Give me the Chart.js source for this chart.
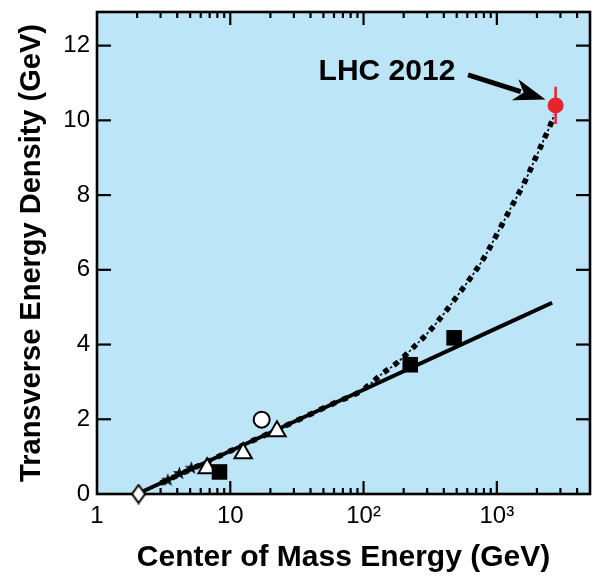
<!DOCTYPE html>
<html>
<head>
<meta charset="utf-8">
<script src="https://cdn.jsdelivr.net/npm/chart.js@4.4.1/dist/chart.umd.min.js"></script>
<style>
    html, body { margin: 0; padding: 0; background: #ffffff; }
    canvas { display: block; }
</style>
</head>
<body>
<canvas id="energyChart" width="602" height="577"></canvas>
<script>
// data: energy in GeV, transverse energy density in GeV
var diamondE = [2.05];
var diamondV = [0];
var starE = [3.4, 4.15, 5.1];
var starV = [0.37, 0.55, 0.69];
var triangleE = [6.7, 12.5, 22.4];
var triangleV = [0.69, 1.09, 1.68];
var circleE = [17.2];
var circleV = [1.99];
var squareE = [8.3, 224, 478];
var squareV = [0.59, 3.46, 4.18];
var lhcE = [2760];
var lhcV = [10.4];
var lhcErr = [0.5];

// solid fit line
var lineE = [2, 10, 100, 1000, 2600];
var lineV = [0, 1.15, 2.79, 4.44, 5.12];

// dash-dot curve
var curveE = [3, 10, 30, 60, 97, 136, 182, 244, 316, 416, 512, 640, 813, 1071, 1270, 1617, 1922, 2205, 2530, 2700];
var curveV = [0.29, 1.15, 1.93, 2.43, 2.77, 3.2, 3.54, 3.97, 4.38, 4.9, 5.33, 5.8, 6.36, 7.15, 7.65, 8.35, 8.94, 9.41, 9.89, 10.15];

// axes
var xMajorTicks = [1, 10, 100, 1000];
var xTickLabels = ['1', '10', '10\u00B2', '10\u00B3'];
var xMinorTicks = [2, 3, 4, 5, 6, 7, 8, 9, 20, 30, 40, 50, 60, 70, 80, 90,
                   200, 300, 400, 500, 600, 700, 800, 900, 2000, 3000, 4000];
var yTicks = [0, 2, 4, 6, 8, 10, 12];

// annotation text and arrow (data coordinates)
var lhcLabel = 'LHC 2012';
var lhcLabelAt = [46, 11.09];
var arrowFrom = [608, 11.22];
var arrowTo = [2321, 10.56];

var FONT = "'Liberation Sans', Arial, Helvetica, sans-serif";

function toPoints(xs, ys) {
    return xs.map(function(x, i) { return { x: x, y: ys[i] }; });
}

function makeStar() {
    var c = document.createElement('canvas');
    c.width = 15; c.height = 15;
    var g = c.getContext('2d');
    g.beginPath();
    for (var i = 0; i < 10; i++) {
        var r = i % 2 === 0 ? 7 : 2.8;
        var ang = -Math.PI / 2 + i * Math.PI / 5;
        g.lineTo(7.5 + r * Math.cos(ang), 7.5 + r * Math.sin(ang));
    }
    g.closePath();
    g.fillStyle = '#000';
    g.fill();
    return c;
}

function makeDiamond() {
    var c = document.createElement('canvas');
    c.width = 16; c.height = 21;
    var g = c.getContext('2d');
    g.beginPath();
    g.moveTo(8, 1.5);
    g.lineTo(14.5, 10.5);
    g.lineTo(8, 19.5);
    g.lineTo(1.5, 10.5);
    g.closePath();
    g.fillStyle = '#fff';
    g.fill();
    g.lineWidth = 2;
    g.strokeStyle = '#000';
    g.stroke();
    return c;
}

function line(ctx, x1, y1, x2, y2) {
    ctx.beginPath();
    ctx.moveTo(x1, y1);
    ctx.lineTo(x2, y2);
    ctx.stroke();
}

var framePlugin = {
    id: 'frame',
    beforeDatasetsDraw: function(chart) {
        var ctx = chart.ctx, a = chart.chartArea;
        var xs = chart.scales.x, ys = chart.scales.y;
        ctx.save();
        ctx.fillStyle = '#bde5f8';
        ctx.fillRect(a.left, a.top, a.right - a.left, a.bottom - a.top);

        ctx.strokeStyle = '#000';
        ctx.lineWidth = 2.2;
        xMajorTicks.forEach(function(v) {
            var px = xs.getPixelForValue(v);
            if (px <= a.left + 1) return;
            line(ctx, px, a.bottom, px, a.bottom - 13);
            line(ctx, px, a.top, px, a.top + 13);
        });
        xMinorTicks.forEach(function(v) {
            var px = xs.getPixelForValue(v);
            line(ctx, px, a.bottom, px, a.bottom - 6);
            line(ctx, px, a.top, px, a.top + 6);
        });
        yTicks.forEach(function(v) {
            if (v === 0) return;
            var py = ys.getPixelForValue(v);
            line(ctx, a.left, py, a.left + 14, py);
            line(ctx, a.right, py, a.right - 14, py);
        });

        ctx.lineWidth = 2.6;
        ctx.strokeRect(a.left, a.top, a.right - a.left, a.bottom - a.top);
        ctx.restore();
    },
    afterDatasetsDraw: function(chart) {
        var ctx = chart.ctx;
        var xs = chart.scales.x, ys = chart.scales.y;
        ctx.save();
        ctx.fillStyle = '#000';
        ctx.font = 'bold 30px ' + FONT;
        ctx.textAlign = 'left';
        ctx.textBaseline = 'alphabetic';
        ctx.fillText(lhcLabel, xs.getPixelForValue(lhcLabelAt[0]), ys.getPixelForValue(lhcLabelAt[1]));

        // arrow
        var x1 = xs.getPixelForValue(arrowFrom[0]), y1 = ys.getPixelForValue(arrowFrom[1]);
        var x2 = xs.getPixelForValue(arrowTo[0]), y2 = ys.getPixelForValue(arrowTo[1]);
        var ang = Math.atan2(y2 - y1, x2 - x1);
        var headLen = 32, headW = 11;
        var bx = x2 - headLen * Math.cos(ang), by = y2 - headLen * Math.sin(ang);
        ctx.strokeStyle = '#000';
        ctx.lineWidth = 5;
        line(ctx, x1, y1, bx + 6 * Math.cos(ang), by + 6 * Math.sin(ang));
        var nx = -Math.sin(ang), ny = Math.cos(ang);
        ctx.beginPath();
        ctx.moveTo(x2, y2);
        ctx.lineTo(bx + headW * nx, by + headW * ny);
        ctx.lineTo(bx + 9 * Math.cos(ang), by + 9 * Math.sin(ang));
        ctx.lineTo(bx - headW * nx, by - headW * ny);
        ctx.closePath();
        ctx.fill();
        ctx.restore();
    }
};

var ctx = document.getElementById('energyChart').getContext('2d');
var energyChart = new Chart(ctx, {
    type: 'scatter',
    data: {
        datasets: [
            {
                label: 'LHC 2012',
                data: toPoints(lhcE, lhcV),
                pointStyle: 'circle',
                pointRadius: 8,
                pointBackgroundColor: '#e8232a',
                pointBorderWidth: 0,
                clip: false
            },
            {
                label: 'LHC error',
                data: [{ x: lhcE[0], y: lhcV[0] - lhcErr[0] }, { x: lhcE[0], y: lhcV[0] + lhcErr[0] }],
                showLine: true,
                borderColor: '#e8232a',
                borderWidth: 2.5,
                pointRadius: 0,
                clip: false
            },
            {
                label: 'squares',
                data: toPoints(squareE, squareV),
                pointStyle: 'rect',
                pointRadius: 11,
                pointBackgroundColor: '#000',
                pointBorderWidth: 0,
                clip: false
            },
            {
                label: 'triangles',
                data: toPoints(triangleE, triangleV),
                pointStyle: 'triangle',
                pointRadius: 10,
                pointBackgroundColor: '#fff',
                pointBorderColor: '#000',
                pointBorderWidth: 2,
                clip: false
            },
            {
                label: 'circle',
                data: toPoints(circleE, circleV),
                pointStyle: 'circle',
                pointRadius: 8,
                pointBackgroundColor: '#fff',
                pointBorderColor: '#000',
                pointBorderWidth: 2,
                clip: false
            },
            {
                label: 'stars',
                data: toPoints(starE, starV),
                pointStyle: makeStar(),
                clip: false
            },
            {
                label: 'diamond',
                data: toPoints(diamondE, diamondV),
                pointStyle: makeDiamond(),
                clip: false
            },
            {
                label: 'fit',
                data: toPoints(lineE, lineV),
                showLine: true,
                borderColor: '#000',
                borderWidth: 4,
                pointRadius: 0
            },
            {
                label: 'curve thin',
                data: toPoints(curveE, curveV),
                showLine: true,
                cubicInterpolationMode: 'monotone',
                borderColor: '#000',
                borderWidth: 1.6,
                borderDash: [2.5, 10],
                borderDashOffset: 4.75,
                pointRadius: 0
            },
            {
                label: 'curve thick',
                data: toPoints(curveE, curveV),
                showLine: true,
                cubicInterpolationMode: 'monotone',
                borderColor: '#000',
                borderWidth: 5.5,
                borderDash: [5.5, 7],
                pointRadius: 0
            }
        ]
    },
    options: {
        responsive: false,
        animation: false,
        events: [],
        layout: { padding: { left: 0, top: 10, right: 9, bottom: 0 } },
        plugins: {
            legend: { display: false },
            tooltip: { enabled: false }
        },
        scales: {
            x: {
                type: 'logarithmic',
                min: 1,
                max: 5000,
                afterBuildTicks: function(scale) {
                    scale.ticks = xMajorTicks.map(function(v) { return { value: v }; });
                },
                afterFit: function(scale) {
                    scale.height = 83;
                    scale.paddingLeft = 0;
                    scale.paddingRight = 0;
                },
                grid: { display: false, drawTicks: false },
                border: { display: false },
                ticks: {
                    padding: 8,
                    color: '#000',
                    font: { family: FONT, size: 24 },
                    maxRotation: 0,
                    autoSkip: false,
                    callback: function(value) {
                        var i = xMajorTicks.indexOf(value);
                        return i >= 0 ? xTickLabels[i] : '';
                    }
                },
                title: {
                    display: true,
                    text: 'Center of Mass Energy (GeV)',
                    color: '#000',
                    font: { family: FONT, size: 30, weight: 'bold' },
                    padding: { top: 0, bottom: 1 }
                }
            },
            y: {
                min: 0,
                max: 12.9,
                afterBuildTicks: function(scale) {
                    scale.ticks = yTicks.map(function(v) { return { value: v }; });
                },
                afterFit: function(scale) {
                    scale.width = 97;
                    scale.paddingTop = 0;
                    scale.paddingBottom = 0;
                },
                grid: { display: false, drawTicks: false },
                border: { display: false },
                ticks: {
                    padding: 7,
                    color: '#000',
                    font: { family: FONT, size: 24 },
                    autoSkip: false
                },
                title: {
                    display: true,
                    text: 'Transverse Energy Density (GeV)',
                    color: '#000',
                    font: { family: FONT, size: 29, weight: 'bold' },
                    padding: { top: 15, bottom: 0 }
                }
            }
        }
    },
    plugins: [framePlugin]
});
</script>
</body>
</html>
